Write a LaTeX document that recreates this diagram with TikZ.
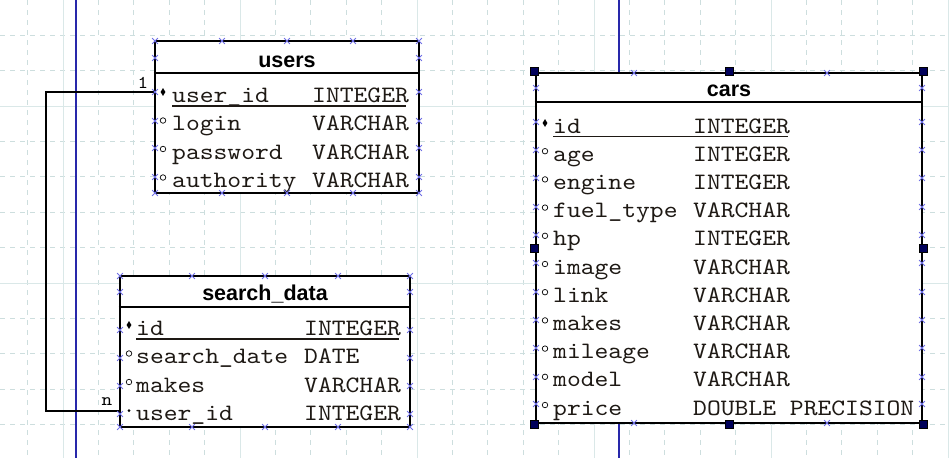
\documentclass[tikz,border=0pt]{standalone}
\usepackage{fontspec}
\setmainfont{Liberation Sans}
\setmonofont{lmmono10-regular.otf}[FakeStretch=1.12]
\usetikzlibrary{shapes.geometric,shapes.misc}
\definecolor{gridc}{RGB}{205,222,222}
\definecolor{grids}{RGB}{218,232,232}
\definecolor{bluel}{RGB}{40,40,170}
\definecolor{xblue}{RGB}{110,110,230}
\definecolor{navy}{RGB}{0,0,90}
\definecolor{txt}{RGB}{30,25,20}
\tikzset{
  gridd/.style={draw=gridc, line width=0.9pt, dash pattern=on 5pt off 5pt},
  grids/.style={draw=grids, line width=1pt},
  bline/.style={draw=bluel, line width=1.3pt},
  tbl/.style={rectangle, draw=black, line width=2.6pt, fill=white, inner sep=0pt},
  sepline/.style={draw=black, line width=2.2pt},
  hdr/.style={font=\fontsize{21.5}{21.5}\selectfont\bfseries, anchor=base, inner sep=0pt, text=black},
  fld/.style={font=\fontsize{23.5}{23.5}\selectfont\ttfamily, anchor=base west, inner sep=0pt, text=txt},
  uline/.style={draw=txt, line width=1.2pt},
  pkm/.style={diamond, fill=black, inner sep=0pt, minimum width=5pt, minimum height=8pt},
  atm/.style={circle, draw=black, line width=0.7pt, fill=white, inner sep=0pt, minimum size=5.5pt},
  fkm/.style={circle, fill=black, inner sep=0pt, minimum size=3pt},
  xm/.style={cross out, draw=xblue, line width=0.8pt, inner sep=0pt, minimum size=5pt},
  hnd/.style={rectangle, fill=navy, draw=black, line width=0.6pt, inner sep=0pt, minimum size=8pt},
  conn/.style={draw=black, line width=2pt},
  lbl/.style={font=\fontsize{18}{18}\selectfont\ttfamily, inner sep=0pt, text=black}
}
\begin{document}
\begin{tikzpicture}[x=1pt,y=-1pt]
\useasboundingbox (0,0) rectangle (949,458);
\fill[white] (0,0) rectangle (949,458);
% grid
\foreach \k in {-1,...,25} {
  \pgfmathsetmacro\gx{63+35.4*\k}
  \draw[gridd] (\gx,0) -- (\gx,458);
}
\foreach \k in {-3,...,10} {
  \pgfmathsetmacro\gy{106+35.4*\k}
  \draw[gridd] (0,\gy) -- (949,\gy);
}
\foreach \k in {0,5,...,25} {
  \pgfmathsetmacro\gx{63+35.4*\k}
  \draw[grids] (\gx,0) -- (\gx,458);
}
\foreach \k in {0,5,10} {
  \pgfmathsetmacro\gy{106+35.4*\k}
  \draw[grids] (0,\gy) -- (949,\gy);
}
% page border lines
\draw[bline] (76,0) -- (76,458);
\draw[bline] (619,0) -- (619,458);

% tables
\node[tbl, minimum width=264pt, minimum height=152pt] (users) at (287,117) {};
\node[tbl, minimum width=290pt, minimum height=151pt] (sd) at (265,351.5) {};
\node[tbl, minimum width=386pt, minimum height=350pt] (cars) at (729,248) {};

\draw[sepline] ([yshift=-33pt]users.north west) -- ([yshift=-33pt]users.north east);
\draw[sepline] ([yshift=-32pt]sd.north west) -- ([yshift=-32pt]sd.north east);
\draw[sepline] ([yshift=-30pt]cars.north west) -- ([yshift=-30pt]cars.north east);

\node[hdr] (uh) at (287,67) {users};
\node[hdr] (sh) at (265,300) {search\_data};
\node[hdr] (ch) at (729,96) {cars};

% users rows
\foreach \n/\t/\m [count=\i] in {user\_id/INTEGER/pkm, login/VARCHAR/atm, password/VARCHAR/atm, authority/VARCHAR/atm} {
  \pgfmathsetmacro\by{102+28.5*(\i-1)}
  \node[fld] (u-n\i) at (172,\by) {\n};
  \node[fld] (u-t\i) at (312,\by) {\t};
  \node[\m] (u-m\i) at (163,\by-10) {};
}
\draw[uline] ([yshift=-4pt]u-n1.base west) -- ([yshift=-4pt,xshift=-3pt]u-t1.base east);

% search_data rows
\foreach \n/\t/\m [count=\i] in {id/INTEGER/pkm, search\_date/DATE/atm, makes/VARCHAR/atm, user\_id/INTEGER/fkm} {
  \pgfmathsetmacro\by{335+28.5*(\i-1)}
  \node[fld] (s-n\i) at (136,\by) {\n};
  \node[fld] (s-t\i) at (304,\by) {\t};
  \node[\m] (s-m\i) at (129,\by-10) {};
}
\draw[uline] ([yshift=-4pt]s-n1.base west) -- ([yshift=-4pt,xshift=-2pt]s-t1.base east);

% cars rows
\foreach \n/\t/\m [count=\i] in {id/INTEGER/pkm, age/INTEGER/atm, engine/INTEGER/atm, fuel\_type/VARCHAR/atm, hp/INTEGER/atm, image/VARCHAR/atm, link/VARCHAR/atm, makes/VARCHAR/atm, mileage/VARCHAR/atm, model/VARCHAR/atm, price/DOUBLE PRECISION/atm} {
  \pgfmathsetmacro\by{133+28.2*(\i-1)}
  \node[fld] (c-n\i) at (553,\by) {\n};
  \node[fld] (c-t\i) at (693,\by) {\t};
  \node[\m] (c-m\i) at (545,\by-10) {};
}
\draw[uline] ([yshift=-3.5pt]c-n1.base west) -- ([yshift=-3.5pt,xshift=-2pt]c-t1.base east);

% connector
\coordinate (ua) at (users.west |- u-m1);
\coordinate (sa) at (sd.west |- s-m4);
\coordinate (cb) at (46,0);
\draw[conn] (ua) -- (ua -| cb) -- (sa -| cb) -- (sa);
\node[lbl, anchor=base] (l1) at (143,88) {1};
\node[lbl, anchor=base] (ln) at (107,405) {n};

% connection marks
\foreach \x [count=\j] in {155,222,287,353,419} {
  \node[xm] (ut\j) at (\x,41) {};
  \node[xm] (ub\j) at (\x,193) {};
}
\foreach \y [count=\j] in {58,92,121,148,177} {
  \node[xm] (ul\j) at (155,\y) {};
  \node[xm] (ur\j) at (419,\y) {};
}
\foreach \x [count=\j] in {120,192,265,338,410} {
  \node[xm] (st\j) at (\x,276) {};
  \node[xm] (sb\j) at (\x,427) {};
}
\foreach \y [count=\j] in {292,330,358,386,414} {
  \node[xm] (sl\j) at (120,\y) {};
  \node[xm] (sr\j) at (410,\y) {};
}
\foreach \x [count=\j] in {634,827} {
  \node[xm] (ct\j) at (\x,73) {};
  \node[xm] (cbm\j) at (\x,423) {};
}
\foreach \y [count=\j] in {88,122,150,178,207,235,263,292,320,348,377,404} {
  \node[xm] (cl\j) at (536,\y) {};
  \node[xm] (cr\j) at (922,\y) {};
}
% selection handles
\node[hnd] (h1) at (cars.north west) {};
\node[hnd] (h2) at (cars.north) {};
\node[hnd] (h3) at (cars.north east) {};
\node[hnd] (h4) at (cars.west) {};
\node[hnd] (h5) at (cars.east) {};
\node[hnd] (h6) at (cars.south west) {};
\node[hnd] (h7) at (cars.south) {};
\node[hnd] (h8) at (cars.south east) {};
\end{tikzpicture}
\end{document}
